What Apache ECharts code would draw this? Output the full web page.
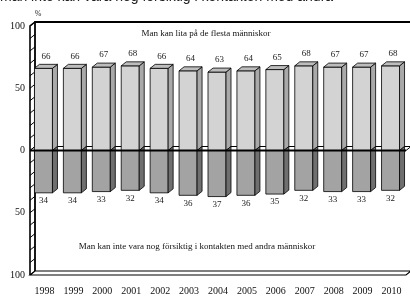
<!DOCTYPE html>
<html lang="en" style="background: #FFFFFF;height: 100%">
<head>
    <meta charset="utf-8" />
    <title>Tillit 1998-2010</title>
    <script src="https://cdn.jsdelivr.net/npm/echarts@6/dist/echarts.min.js"></script>
</head>
<body style="margin: 0;height: 100%">
    <div id="chart" style="width:410px;height:296px"></div>
    <script>
    // data
    let years = ['1998', '1999', '2000', '2001', '2002', '2003', '2004', '2005', '2006', '2007', '2008', '2009', '2010']
    let trust = [66, 66, 67, 68, 66, 64, 63, 64, 65, 68, 67, 67, 68]     // Man kan lita på de flesta människor
    let caution = [34, 34, 33, 32, 34, 36, 37, 36, 35, 32, 33, 33, 32]  // Man kan inte vara nog försiktig ...

    let serif = '"Liberation Serif", "DejaVu Serif", serif'
    let L = 30, R = 406, TOP = 26, BOTTOM = 20
    let dx = 5, dy = 4, bw = 18

    let chart = echarts.init(document.getElementById('chart'))

    function bar3d(front, side, topc) {
        return function(params, api) {
            let v = api.value(1)
            let p = api.coord([api.value(0), v])
            let b = api.coord([api.value(0), 0])
            let x0 = p[0] - bw / 2 - 1, x1 = x0 + bw
            let yv = p[1], y0 = b[1]
            let st = { stroke: '#000', lineWidth: 0.8 }
            let kids = [
                { type: 'rect', shape: { x: x0, y: Math.min(yv, y0), width: bw, height: Math.abs(y0 - yv) },
                  style: Object.assign({ fill: front }, st) },
                { type: 'polygon', shape: { points: v > 0
                    ? [[x1, yv], [x1 + dx, yv - dy], [x1 + dx, y0 - dy], [x1, y0]]
                    : [[x1, y0], [x1 + dx, y0 - dy], [x1 + dx, yv - dy], [x1, yv]] },
                  style: Object.assign({ fill: side }, st) }
            ]
            if (v > 0) {
                kids.push({ type: 'polygon', shape: { points: [[x0, yv], [x0 + dx, yv - dy], [x1 + dx, yv - dy], [x1, yv]] },
                    style: Object.assign({ fill: topc }, st) })
                kids.push({ type: 'text', x: (x0 + x1 + dx) / 2, y: yv - dy - 8,
                    style: { text: String(v), fill: '#222', font: '9px ' + serif, align: 'center', verticalAlign: 'middle' } })
            } else {
                kids.push({ type: 'text', x: (x0 + x1) / 2, y: yv + 8,
                    style: { text: String(-v), fill: '#222', font: '9px ' + serif, align: 'center', verticalAlign: 'middle' } })
            }
            return { type: 'group', children: kids }
        }
    }

    chart.setOption({
        animation: false,
        backgroundColor: '#fff',
        grid: { left: L, right: 410 - R, top: TOP, bottom: BOTTOM },
        xAxis: {
            type: 'category', data: years,
            axisLine: { show: false }, axisTick: { show: false },
            axisLabel: { fontFamily: serif, fontSize: 10, color: '#111', margin: 11 }
        },
        yAxis: {
            type: 'value', min: -100, max: 100, interval: 50,
            splitLine: { show: false }, axisLine: { show: false }, axisTick: { show: false },
            axisLabel: { fontFamily: serif, fontSize: 10, color: '#111', margin: 5,
                formatter: v => String(Math.abs(v)) }
        },
        series: [
            { type: 'custom', renderItem: bar3d('#d3d3d3', '#a9a9a9', '#bdbdbd'),
              data: trust.map((v, i) => [i, v]), z: 3 },
            { type: 'custom', renderItem: bar3d('#a3a3a3', '#6f6f6f', '#8a8a8a'),
              data: caution.map((v, i) => [i, -v]), z: 3 }
        ]
    })

    // 3D box around the plot
    let yTop = chart.convertToPixel({ gridIndex: 0 }, [0, 100])[1]
    let yBot = chart.convertToPixel({ gridIndex: 0 }, [0, -100])[1]
    let y0 = chart.convertToPixel({ gridIndex: 0 }, [0, 0])[1]
    let line = (pts, w, z) => ({ type: 'polyline', shape: { points: pts }, style: { stroke: '#000', lineWidth: w, fill: null }, z: z || 0 })

    let graphic = [
        line([[L + dx, yBot - dy], [L + dx, yTop - dy], [R + dx + 4, yTop - dy]], 1.8),
        { type: 'polygon', shape: { points: [[L, yBot], [L + dx, yBot - dy], [R + dx, yBot - dy], [R, yBot]] },
          style: { fill: '#fff', stroke: '#000', lineWidth: 1.2 }, z: 0 },
        line([[L, yBot], [L, yTop], [L + dx, yTop - dy]], 1.6),
        { type: 'polygon', shape: { points: [[L, y0], [L + dx, y0 - dy], [R + dx, y0 - dy], [R, y0]] },
          style: { fill: '#fff', stroke: '#000', lineWidth: 1 }, z: 0 },
        line([[L, y0], [R, y0]], 2, 10),
        { type: 'text', x: L + 8, y: yTop - 12,
          style: { text: '%', font: '8px ' + serif, fill: '#222', align: 'center', verticalAlign: 'middle' } },
        { type: 'text', x: (L + R) / 2 - 12, y: yTop + 8,
          style: { text: 'Man kan lita på de flesta människor', font: '9px ' + serif, fill: '#111', align: 'center', verticalAlign: 'middle' } },
        { type: 'text', x: (L + R) / 2 - 21, y: y0 + 96,
          style: { text: 'Man kan inte vara nog försiktig i kontakten med andra människor', font: '9px ' + serif, fill: '#111', align: 'center', verticalAlign: 'middle' } },
        { type: 'text', x: 0, y: -2.5,
          style: { text: 'man inte kan vara nog försiktig i kontakten med andra', font: '14px "Liberation Sans", Arial, sans-serif', fill: '#222', align: 'left', verticalAlign: 'middle' } }
    ]
    for (let v = -100; v <= 100; v += 10) {
        let y = chart.convertToPixel({ gridIndex: 0 }, [0, v])[1]
        graphic.push(line([[L, y], [L + dx, y - dy]], 1))
    }
    chart.setOption({ graphic: graphic })
    </script>
</body>
</html>
